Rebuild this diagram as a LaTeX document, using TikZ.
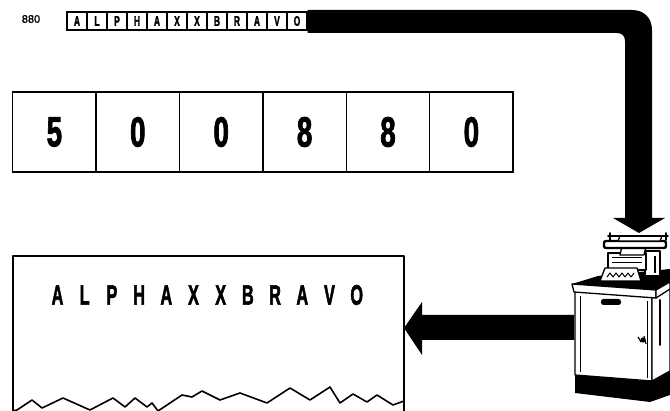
\documentclass[tikz,border=0pt]{standalone}
\usepackage{fontspec}
\setmainfont{Liberation Sans}
\newfontfamily\heavyface[FakeBold=2.5]{Liberation Sans Bold}
\newfontfamily\semiface[FakeBold=1.2]{Liberation Sans}
\begin{document}
\begin{tikzpicture}[x=1pt,y=-1pt,
  ink/.style={line width=1.3pt, line join=round},
  tapecell/.style={draw, line width=1.1pt, minimum width=20pt, minimum height=18pt,
    inner sep=0pt, font=\heavyface\fontsize{14}{14}\selectfont},
  digitcell/.style={draw, line width=1.3pt, minimum width=83.4pt, minimum height=80pt,
    inner sep=0pt, font=\heavyface\fontsize{42}{42}\selectfont},
  printchar/.style={inner sep=0pt, font=\heavyface\fontsize{28}{28}\selectfont},
  flow/.style={fill=black},
]
\useasboundingbox (0,0) rectangle (670,411);

% address label and the input tape
\node[font=\semiface\fontsize{11}{11}\selectfont] (addr) at (31,19) {880};
\foreach \ch [count=\i] in {A,L,P,H,A,X,X,B,R,A,V,O}
  \node[tapecell] (t\i) at ({67+20*(\i-0.5)},21) {\scalebox{0.6}[1]{\ch}};

% storage register
\foreach \d [count=\i] in {5,0,0,8,8,0}
  \node[digitcell] (d\i) at ({12.7+83.4*(\i-0.5)},132) {\scalebox{0.66}[1]{\d}};

% printed sheet with torn lower edge
\coordinate (paperin) at (404,328);
\draw[ink] (13,411) -- (13,256) -- (404,256) -- (404,411);
\foreach \ch [count=\i] in {A,L,P,H,A,X,X,B,R,A,V,O}
  \node[printchar] (p\i) at ({57.5+27.2*(\i-1)},295) {\scalebox{0.58}[1]{\ch}};
\draw[line width=1.6pt, line join=round] plot coordinates {
  (13,411) (17,410) (32,400) (42,408) (63,398) (90,410) (113,398) (125,407)
  (135,398) (147,407) (152,403) (158,411) (182,395) (192,397) (202,391)
  (220,400) (240,393) (267,403) (290,388) (310,400) (330,387) (340,403)
  (353,394) (367,402) (377,395) (393,405) (404,401)};

% machine reference points
\coordinate (feed) at (639,233);
\coordinate (out) at (574,328);

% tape feeding into the machine
\fill[flow] (t12.east |- 0,10) -- (632,10) .. controls (644,10) and (652,18) .. (652,30)
  -- (652,218) -- (665,218) -- (feed) -- (613,218) -- (625,218) -- (625,41)
  .. controls (625,36) and (622,33) .. (617,33) -- (t12.east |- 0,33) -- cycle;

% output from the machine to the sheet
\fill[flow] (out |- 0,315) -- (422,315) -- (422,302) -- (paperin) -- (422,355)
  -- (422,340) -- (out |- 0,340) -- cycle;

% cabinet plinth
\fill (575,372) -- (652,378) -- (670,369) -- (670,395) -- (650,402) -- (575,393) -- cycle;
% cabinet front and side
\draw[ink, fill=white] (575,291) -- (652,297) -- (652,381) -- (575,375) -- cycle;
\draw[ink, fill=white] (652,297) -- (670,287) -- (670,371) -- (652,381) -- cycle;
\draw[line width=1pt] (580,296) -- (580,372);
\draw[line width=1pt] (647,301) -- (647,378);
\draw[line width=2pt, line cap=round] (660,300) -- (660,345);
\fill[rounded corners=2.5pt] (601,299) rectangle (621,305);
\fill (643,340) circle (2.6);
\draw[line width=1.2pt] (638,337) -- (641,342) (644,336) -- (646,344);
% cabinet top slab
\fill (572,284) -- (598,276) -- (670,269) -- (670,282) -- (656,290) -- cycle;
\draw[ink, fill=white] (572,284) -- (656,290) -- (656,298) -- (574,292) -- cycle;
\draw[ink, fill=white] (656,290) -- (670,282) -- (670,289) -- (656,298) -- cycle;

% typewriter
\draw[ink, fill=white] (645,251) rectangle (660,276);
\draw[line width=1.5pt] (655,256) -- (655,273);
\draw[ink, fill=white] (608,253) rectangle (646,270);
\draw[line width=1pt] (612,258) -- (642,258) (612,263) -- (642,263);
\draw[ink, fill=white] (605,268) -- (637,268) -- (641,281) -- (600,281) -- cycle;
\draw[line width=1pt, line join=round] (607,277) -- (610,273) -- (613,277) -- (616,273)
  -- (619,277) -- (622,273) -- (625,277) -- (628,273) -- (631,277) -- (634,273);
\draw[ink, fill=white] (622,246) -- (646,246) -- (644,255) -- (620,255) -- cycle;
\draw[line width=2.4pt, fill=white, rounded corners=2pt] (604,241) rectangle (666,248);
\draw[ink, fill=white] (620,236) -- (662,236) -- (660,241) -- (618,241) -- cycle;
\draw[line width=1.6pt, line cap=round] (608,236) -- (668,236);
\draw[line width=1.6pt, line cap=round] (610,233) -- (610,240) (666,233) -- (666,240);
\end{tikzpicture}
\end{document}
